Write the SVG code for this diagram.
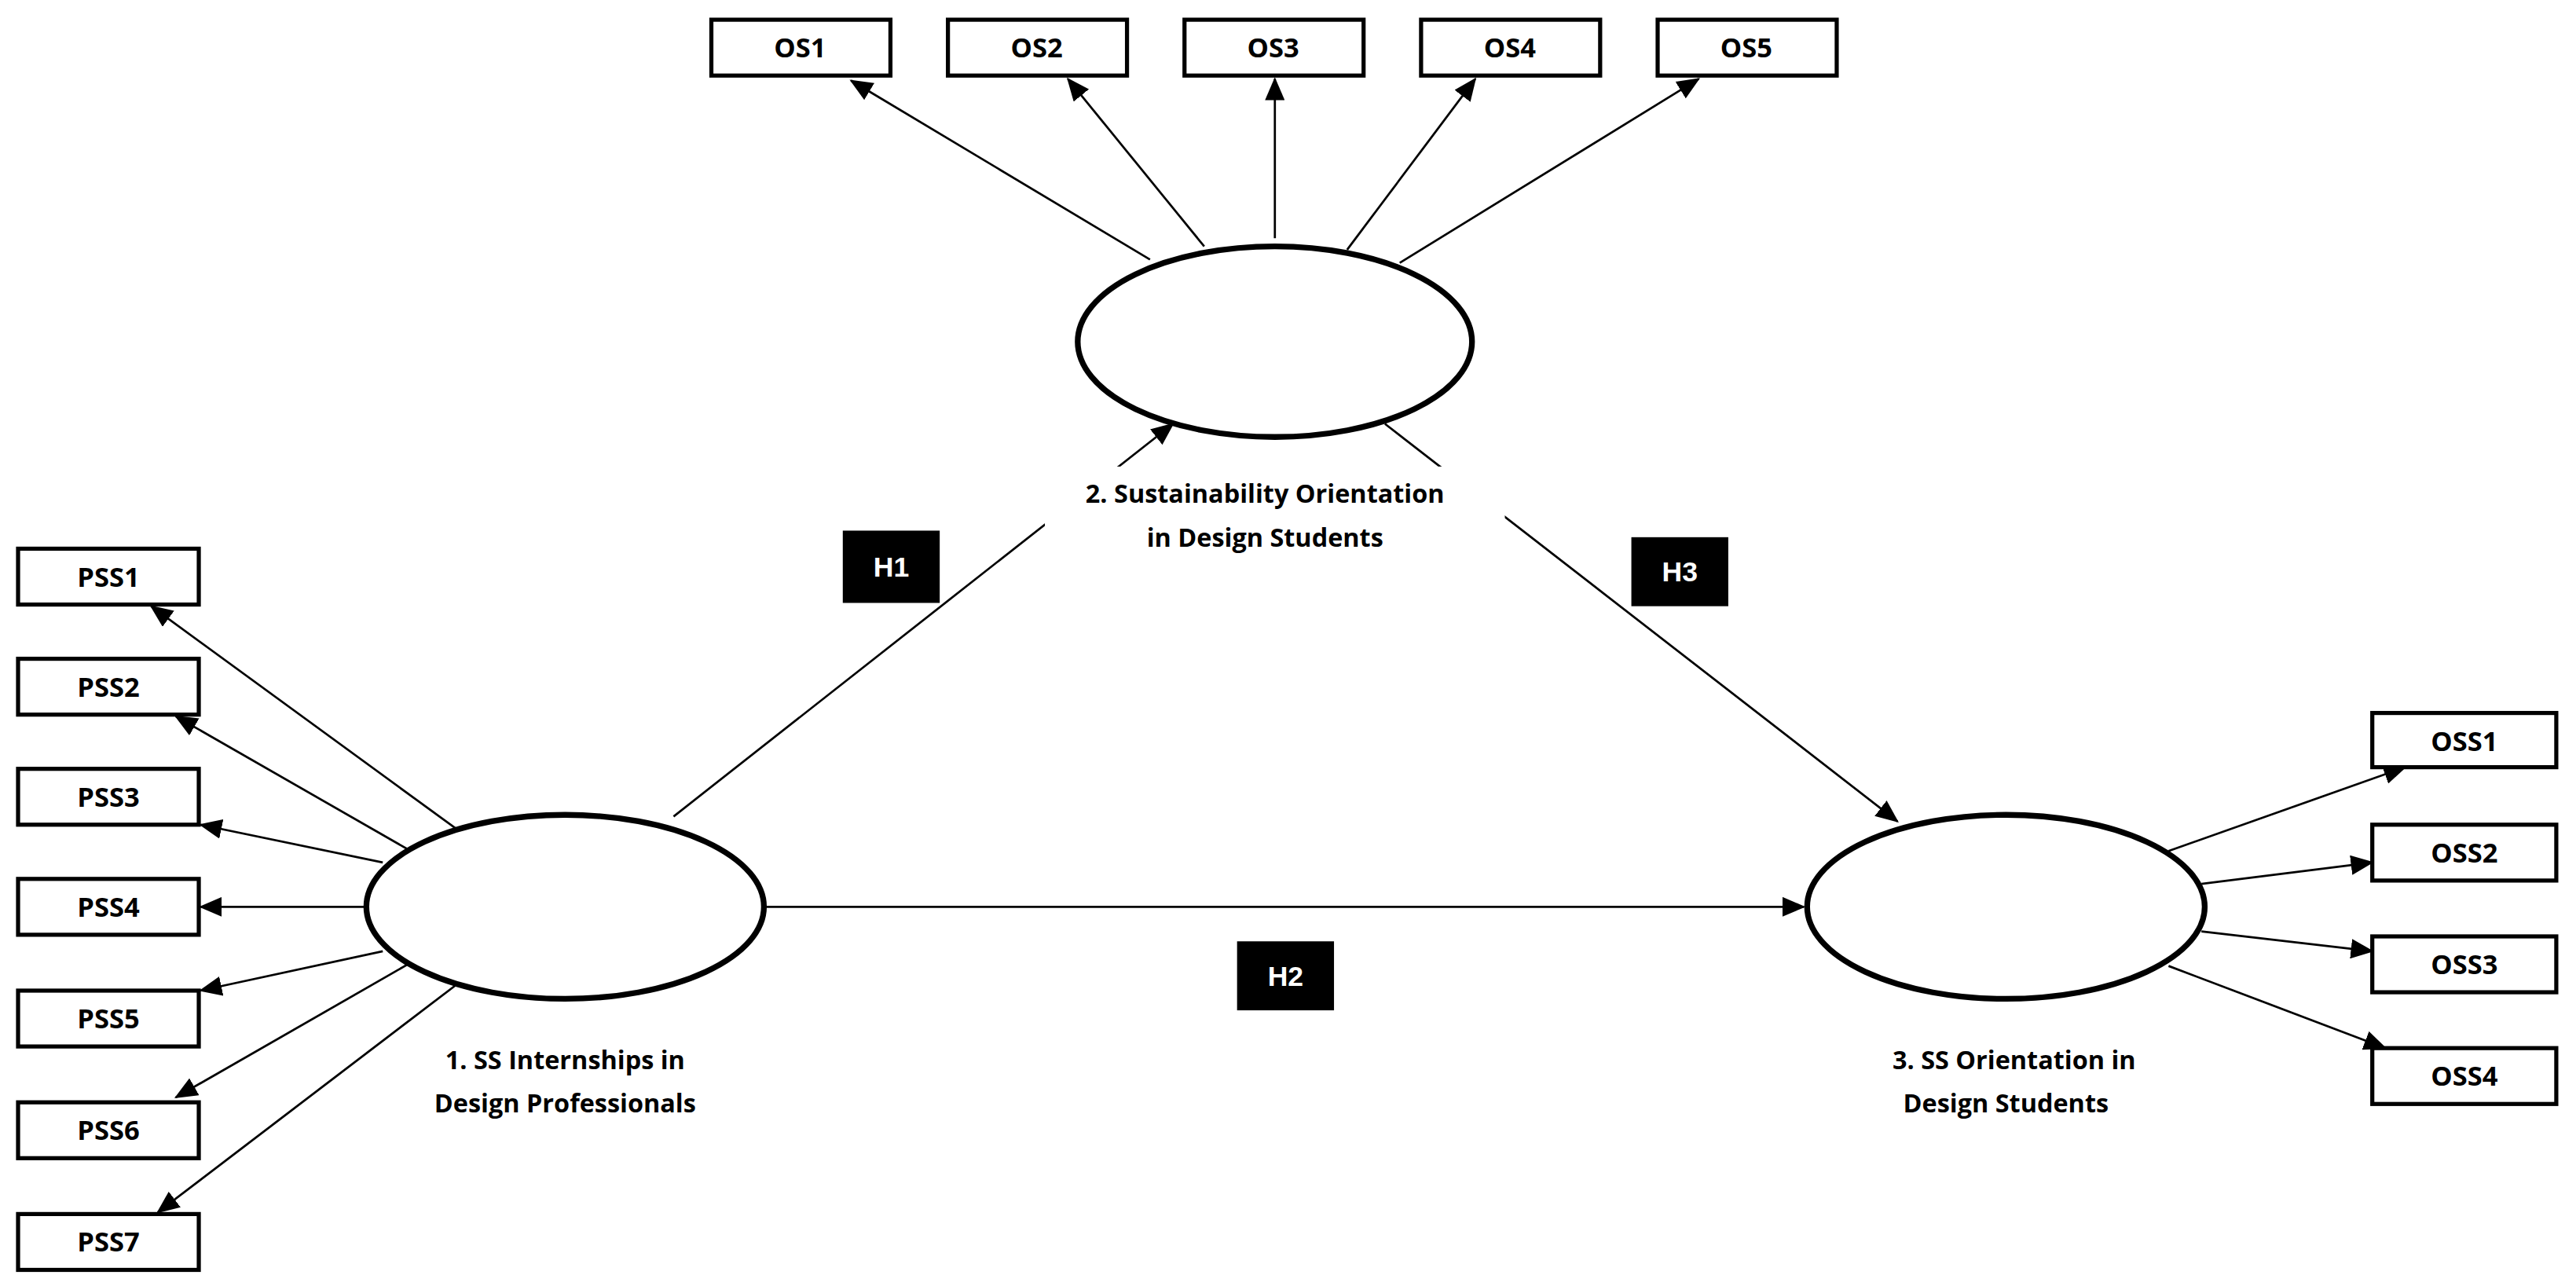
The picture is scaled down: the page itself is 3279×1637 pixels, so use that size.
<svg xmlns="http://www.w3.org/2000/svg" width="3279" height="1637" viewBox="0 0 3279 1637">
<style>
.box{fill:#fff;stroke:#000;stroke-width:2.5}
.lat{fill:#fff;stroke:#000;stroke-width:3.5}
.bt{font-family:"Open Sans","Liberation Sans",sans-serif;font-weight:700;font-size:16.5px;text-anchor:middle;fill:#000}
.cap{font-family:"Open Sans","Liberation Sans",sans-serif;font-weight:700;font-size:15.5px;text-anchor:middle;fill:#000}
.hb{fill:#000}
.ht{font-family:"Liberation Sans",Arial,sans-serif;font-weight:700;font-size:17px;text-anchor:middle;fill:#fff}
.ln{stroke:#000;stroke-width:1.3;fill:none;marker-end:url(#a)}
</style>
<defs>
<marker id="a" markerUnits="userSpaceOnUse" markerWidth="14" markerHeight="12" refX="13" refY="6" orient="auto"><path d="M0,0 L14,6 L0,12 Z" fill="#000"/></marker>
</defs>
<rect width="3279" height="1637" fill="#fff"/>
<g transform="scale(2.0912)">
<g id="connectors">
<line class="ln" x1="700" y1="158" x2="518" y2="49"/>
<line class="ln" x1="733" y1="150" x2="650" y2="48"/>
<line class="ln" x1="776" y1="145" x2="776" y2="48"/>
<line class="ln" x1="820" y1="152" x2="898" y2="48"/>
<line class="ln" x1="852" y1="160" x2="1034" y2="48"/>
<line class="ln" x1="277" y1="504" x2="92" y2="369"/>
<line class="ln" x1="250" y1="518" x2="107" y2="436"/>
<line class="ln" x1="233" y1="525" x2="122" y2="502"/>
<line class="ln" x1="222" y1="552" x2="122" y2="552"/>
<line class="ln" x1="233" y1="579" x2="122" y2="603"/>
<line class="ln" x1="250" y1="586" x2="107" y2="668"/>
<line class="ln" x1="277" y1="600" x2="96" y2="738"/>
<line class="ln" x1="1320" y1="518" x2="1464" y2="467"/>
<line class="ln" x1="1340" y1="538" x2="1444" y2="525"/>
<line class="ln" x1="1340" y1="567" x2="1444" y2="579"/>
<line class="ln" x1="1320" y1="588" x2="1452" y2="638"/>
<line class="ln" x1="410" y1="497" x2="714" y2="258"/>
<line class="ln" x1="843" y1="258" x2="1155" y2="500"/>
<line class="ln" x1="466" y1="552" x2="1098" y2="552"/>
</g>
<g id="lat2"><ellipse class="lat" cx="776" cy="208" rx="120" ry="58"/>
<rect x="636" y="284" width="280" height="54" fill="#fff"/>
<text class="cap" x="770" y="306">2. Sustainability Orientation</text>
<text class="cap" x="770" y="333">in Design Students</text></g>
<g id="lat1"><ellipse class="lat" cx="344" cy="552" rx="121" ry="56"/>
<text class="cap" x="344" y="651">1. SS Internships in</text>
<text class="cap" x="344" y="677">Design Professionals</text></g>
<g id="lat3"><ellipse class="lat" cx="1221" cy="552" rx="121" ry="56"/>
<text class="cap" x="1226" y="651">3. SS Orientation in</text>
<text class="cap" x="1221" y="677">Design Students</text></g>
<g id="OS1"><rect class="box" x="433" y="12" width="109" height="34"/><text class="bt" x="487" y="35">OS1</text></g>
<g id="OS2"><rect class="box" x="577" y="12" width="109" height="34"/><text class="bt" x="631" y="35">OS2</text></g>
<g id="OS3"><rect class="box" x="721" y="12" width="109" height="34"/><text class="bt" x="775" y="35">OS3</text></g>
<g id="OS4"><rect class="box" x="865" y="12" width="109" height="34"/><text class="bt" x="919" y="35">OS4</text></g>
<g id="OS5"><rect class="box" x="1009" y="12" width="109" height="34"/><text class="bt" x="1063" y="35">OS5</text></g>
<g id="PSS1"><rect class="box" x="11" y="334" width="110" height="34"/><text class="bt" x="66" y="357">PSS1</text></g>
<g id="PSS2"><rect class="box" x="11" y="401" width="110" height="34"/><text class="bt" x="66" y="424">PSS2</text></g>
<g id="PSS3"><rect class="box" x="11" y="468" width="110" height="34"/><text class="bt" x="66" y="491">PSS3</text></g>
<g id="PSS4"><rect class="box" x="11" y="535" width="110" height="34"/><text class="bt" x="66" y="558">PSS4</text></g>
<g id="PSS5"><rect class="box" x="11" y="603" width="110" height="34"/><text class="bt" x="66" y="626">PSS5</text></g>
<g id="PSS6"><rect class="box" x="11" y="671" width="110" height="34"/><text class="bt" x="66" y="694">PSS6</text></g>
<g id="PSS7"><rect class="box" x="11" y="739" width="110" height="34"/><text class="bt" x="66" y="762">PSS7</text></g>
<g id="OSS1"><rect class="box" x="1444" y="434" width="112" height="33"/><text class="bt" x="1500" y="457">OSS1</text></g>
<g id="OSS2"><rect class="box" x="1444" y="502" width="112" height="34"/><text class="bt" x="1500" y="525">OSS2</text></g>
<g id="OSS3"><rect class="box" x="1444" y="570" width="112" height="34"/><text class="bt" x="1500" y="593">OSS3</text></g>
<g id="OSS4"><rect class="box" x="1444" y="638" width="112" height="34"/><text class="bt" x="1500" y="661">OSS4</text></g>
<g id="H1"><rect class="hb" x="513" y="323" width="59" height="44"/><text class="ht" x="542.5" y="351">H1</text></g>
<g id="H2"><rect class="hb" x="753" y="573" width="59" height="42"/><text class="ht" x="782.5" y="600">H2</text></g>
<g id="H3"><rect class="hb" x="993" y="327" width="59" height="42"/><text class="ht" x="1022.5" y="354">H3</text></g>
</g>
</svg>
